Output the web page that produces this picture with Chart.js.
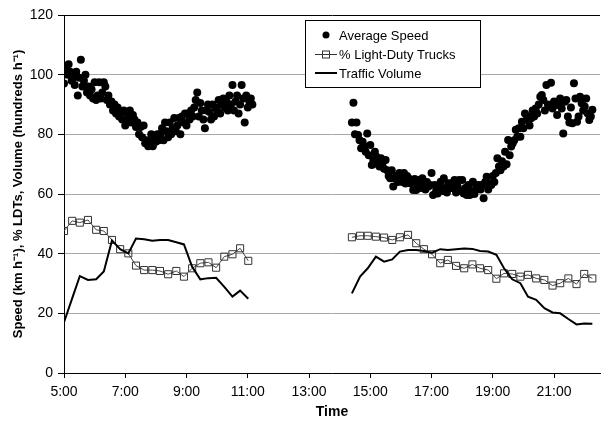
<!DOCTYPE html>
<html>
<head>
<meta charset="utf-8">
<script src="https://cdn.jsdelivr.net/npm/chart.js@4.4.1/dist/chart.umd.min.js"></script>
<style>
    html, body { margin: 0; padding: 0; background: #fff; }
</style>
</head>
<body>
<canvas id="speedChart" width="606" height="421"></canvas>
<script>
/* ===============================
   DATA
================================ */
const hourTicks = [5, 7, 9, 11, 13, 15, 17, 19, 21];
const yTicks = [0, 20, 40, 60, 80, 100, 120];

// average speed, one reading every 3 minutes
const speedStepMin = 3;
const speedAmStart = "5:00";
const speedAm = [
    97, 102.5, 100, 103.5, 101, 98, 99, 96.5, 101, 93,
    99, 105, 96, 98, 100, 94, 96, 93, 95, 92,
    97.5, 91.5, 93, 97.5, 92, 94, 97.5, 96, 91.5, 93,
    90, 91, 88, 90, 87, 89, 86, 87.5, 85, 88,
    83, 87, 85, 88, 84, 86.5, 85, 82.5, 84, 80,
    82.5, 79, 83, 77, 78, 76, 77.5, 80, 76, 79,
    77.5, 80, 78, 80, 82, 78, 84, 81, 79, 84,
    80, 82, 85.5, 81, 83, 85.5, 80, 86, 84, 87,
    83, 87, 85, 88, 86, 89, 91.5, 94, 86, 90.5,
    88, 85, 82, 88, 90, 87.5, 85, 90, 86, 89,
    88, 91.5, 87, 90, 92, 89, 91, 88, 93, 90,
    96.5, 88, 91, 93, 87, 90, 96.5, 92, 84, 93,
    89, 91, 92, 90
];
const speedPmStart = "14:24";
const speedPm = [
    84, 90.6, 80, 84, 79.8, 78, 75.3, 77.5, 76, 74.2,
    80.3, 73, 76.4, 69.7, 71.4, 74.2, 72.5, 70, 69.2, 72,
    70.5, 68.5, 71.4, 68, 66, 65.3, 68, 62.5, 65.3, 66,
    64, 67, 65, 64, 67, 63.5, 66, 65.3, 63.6, 64,
    61.3, 65, 61.3, 63, 64.7, 62, 65.3, 63, 61.5, 64,
    62.5, 63, 67, 59.7, 63, 61, 60.2, 63, 64.1, 61,
    65.3, 62, 60.5, 63.6, 62, 63.6, 61.9, 64.7, 60.5, 62.5,
    64.7, 61, 64.7, 60.2, 62, 59.7, 63, 59.7, 61, 64.1,
    60, 63, 62, 63, 61.5, 63, 58.6, 64, 65.8, 61.5,
    63.6, 63, 66, 64, 67, 72, 69.2, 68, 71, 69.2,
    74.2, 70, 78.1, 73, 75.9, 77, 78, 81.5, 79.2, 82,
    79.2, 84.2, 82, 87, 84.8, 86, 83, 85.4, 88, 86,
    88.7, 87, 90, 92.6, 93.2, 91.5, 88, 96.5, 90, 89.3,
    97.3, 88.7, 91, 89.8, 86.5, 89.8, 92, 88.7, 80.3, 90.9,
    91.5, 86, 84, 89, 83.7, 97.1, 92, 84.2, 86, 92.6,
    90.4, 88, 89.3, 92, 87, 84.8, 86, 88.2
];

// % light-duty trucks and traffic volume (hundreds per hour)
const countTimesAm = [
    "5:00", "5:16", "5:31", "5:47", "6:03", "6:18", "6:34", "6:50",
    "7:06", "7:21", "7:37", "7:53", "8:08", "8:24", "8:40", "8:55",
    "9:11", "9:27", "9:43", "9:58", "10:14", "10:30", "10:45", "11:01"
];
const ldtAm = [
    47.6, 51, 50.4, 51.3, 48, 47.6, 44.6, 41.5,
    40.1, 36, 34.5, 34.5, 34.2, 33.1, 34.2, 32.3,
    35.1, 36.8, 37.1, 35.3, 39, 39.8, 41.8, 37.6
];
const volumeAm = [
    17, 25, 32.5, 31.2, 31.4, 34, 44.4, 41.5,
    40.1, 45.1, 44.8, 44.3, 44.6, 44.6, 43.8, 43.1,
    35.6, 31.4, 31.8, 31.9, 28.9, 25.6, 27.6, 24.9
];
const countTimesPm = [
    "14:24", "14:40", "14:55", "15:11", "15:27", "15:43", "15:58", "16:14",
    "16:30", "16:45", "17:01", "17:17", "17:32", "17:48", "18:04", "18:20",
    "18:35", "18:51", "19:07", "19:22", "19:38", "19:54", "20:09", "20:25",
    "20:41", "20:57", "21:12", "21:28", "21:44", "21:59", "22:15"
];
const ldtPm = [
    45.5, 46, 46, 45.7, 45.4, 44.6, 45.5, 46.3,
    43.5, 41.5, 39.8, 36.8, 37.9, 35.9, 35.1, 36.4,
    35.1, 34.5, 31.6, 33.4, 33.2, 32.3, 32.9, 31.7,
    31.2, 29.3, 30.1, 31.7, 29.8, 33.2, 31.7
];
const volumePm = [
    26.7, 32.3, 35.1, 39, 37.3, 38.1, 40.7, 41.2,
    41.2, 40.9, 40.3, 41.5, 41.2, 41.5, 41.7, 41.6,
    40.9, 40.7, 39.6, 35.1, 31.4, 30.1, 25.6, 24.5,
    21.7, 20.3, 20, 18.1, 16.3, 16.6, 16.5
];

const legendLabels = ["Average Speed", "% Light-Duty Trucks", "Traffic Volume"];

/* ===============================
   HELPERS
================================ */
function toHours(t) {
    const p = t.split(":");
    return Number(p[0]) + Number(p[1]) / 60;
}

function speedPoints(start, values) {
    const t0 = toHours(start);
    return values.map((v, i) => ({ x: t0 + i * speedStepMin / 60, y: v }));
}

function timedPoints(times, values) {
    return times.map((t, i) => ({ x: toHours(t), y: values[i] }));
}

const FONT = "'Liberation Sans', Arial, sans-serif";

/* ===============================
   LEGEND BOX (drawn in plot)
================================ */
const boxLegend = {
    id: "boxLegend",
    afterDraw(chart) {
        const ctx = chart.ctx;
        const a = chart.chartArea;
        const left = a.left + 241;
        const top = a.top + 5;
        const w = 175;
        const h = 67;

        ctx.save();
        ctx.fillStyle = "#fff";
        ctx.fillRect(left, top, w, h);
        ctx.strokeStyle = "#000";
        ctx.lineWidth = 1;
        ctx.strokeRect(left + 0.5, top + 0.5, w, h);

        ctx.font = "13px " + FONT;
        ctx.fillStyle = "#000";
        ctx.textBaseline = "middle";

        legendLabels.forEach((label, i) => {
            const cy = top + 15 + i * 19;
            const mx = left + 21;

            if (i === 0) {
                ctx.beginPath();
                ctx.arc(mx, cy, 3.5, 0, Math.PI * 2);
                ctx.fill();
            } else if (i === 1) {
                ctx.strokeStyle = "#333";
                ctx.lineWidth = 1;
                ctx.beginPath();
                ctx.moveTo(mx - 11, cy + 0.5);
                ctx.lineTo(mx + 11, cy + 0.5);
                ctx.stroke();
                ctx.strokeRect(mx - 3.5, cy - 3, 7, 7);
            } else {
                ctx.strokeStyle = "#000";
                ctx.lineWidth = 2;
                ctx.beginPath();
                ctx.moveTo(mx - 11, cy);
                ctx.lineTo(mx + 11, cy);
                ctx.stroke();
            }
            ctx.fillText(label, left + 34, cy + 1);
        });
        ctx.restore();
    }
};

/* ===============================
   CHART
================================ */
const speedStyle = {
    showLine: false,
    pointRadius: 4,
    pointBackgroundColor: "#000",
    pointBorderColor: "#000",
    pointBorderWidth: 0
};
const ldtStyle = {
    showLine: true,
    borderColor: "#444",
    borderWidth: 1,
    pointStyle: "rect",
    pointRadius: 5,
    pointBorderColor: "#333",
    pointBorderWidth: 1,
    pointBackgroundColor: "rgba(255,255,255,0)"
};
const volumeStyle = {
    showLine: true,
    borderColor: "#000",
    borderWidth: 2,
    pointRadius: 0
};

new Chart(document.getElementById("speedChart"), {
    type: "scatter",
    data: {
        datasets: [
            Object.assign({ data: timedPoints(countTimesAm, volumeAm) }, volumeStyle),
            Object.assign({ data: timedPoints(countTimesPm, volumePm) }, volumeStyle),
            Object.assign({ data: timedPoints(countTimesAm, ldtAm) }, ldtStyle),
            Object.assign({ data: timedPoints(countTimesPm, ldtPm) }, ldtStyle),
            Object.assign({ data: speedPoints(speedAmStart, speedAm) }, speedStyle),
            Object.assign({ data: speedPoints(speedPmStart, speedPm) }, speedStyle)
        ]
    },
    options: {
        responsive: false,
        animation: false,
        layout: { padding: { top: 15, right: 5, left: 0, bottom: 0 } },
        plugins: {
            legend: { display: false },
            tooltip: { enabled: false }
        },
        scales: {
            x: {
                type: "linear",
                min: 5,
                max: 22.5,
                afterBuildTicks: s => { s.ticks = hourTicks.map(v => ({ value: v })); },
                afterFit: s => { s.height = 48; },
                border: { color: "#000", width: 1 },
                grid: { drawOnChartArea: false, tickLength: 5, tickColor: "#000" },
                ticks: {
                    color: "#000",
                    padding: 6,
                    maxRotation: 0,
                    font: { family: FONT, size: 14 },
                    callback: v => v + ":00"
                },
                title: {
                    display: true,
                    text: "Time",
                    color: "#000",
                    padding: 0,
                    font: { family: FONT, size: 14, weight: "bold" }
                }
            },
            y: {
                min: 0,
                max: 120,
                afterBuildTicks: s => { s.ticks = yTicks.map(v => ({ value: v })); },
                afterFit: s => { s.width = 64; },
                border: { color: "#000", width: 1 },
                grid: {
                    color: c => (c.tick && c.tick.value === 120 ? "#000" : "#a8a8a8"),
                    tickLength: 6,
                    tickColor: "#000"
                },
                ticks: {
                    color: "#000",
                    padding: 5,
                    font: { family: FONT, size: 14 }
                },
                title: {
                    display: true,
                    text: "Speed (km h\u207B\u00B9), % LDTs, Volume (hundreds h\u207B\u00B9)",
                    color: "#000",
                    padding: { top: 11, bottom: 0 },
                    font: { family: FONT, size: 13, weight: "bold" }
                }
            }
        }
    },
    plugins: [boxLegend]
});
</script>
</body>
</html>
